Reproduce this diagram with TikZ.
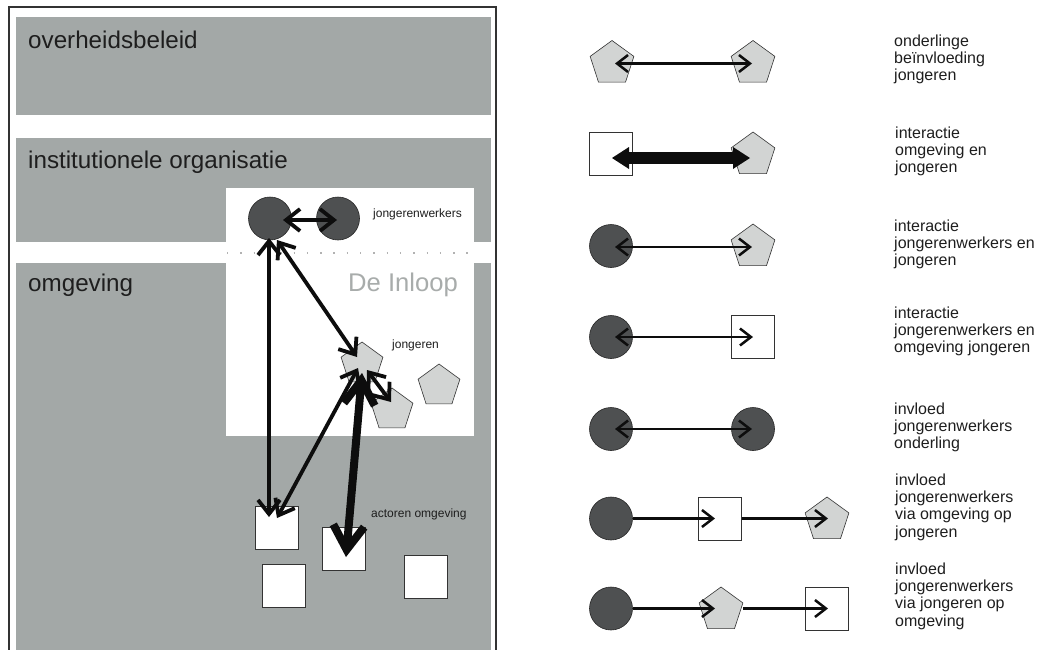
\documentclass[tikz,border=0pt]{standalone}
\usepackage{fontspec}
\setmainfont{Liberation Sans}
\usetikzlibrary{shapes.geometric,arrows.meta,calc}
\definecolor{band}{HTML}{A3A8A7}
\definecolor{dark}{HTML}{4E5051}
\definecolor{light}{HTML}{D2D4D3}
\definecolor{txt}{HTML}{1E1E1E}
\definecolor{inloop}{HTML}{A8ACAB}
\definecolor{framecol}{HTML}{333333}
\begin{document}
\begin{tikzpicture}[x=1pt,y=-1pt,
  worker/.style={circle,draw=black!85,line width=0.6pt,fill=dark,minimum size=43pt,inner sep=0pt},
  youth/.style={regular polygon,regular polygon sides=5,draw=black!80,line width=0.6pt,fill=light,minimum size=44pt,inner sep=0pt},
  actor/.style={rectangle,draw=black!80,line width=0.7pt,fill=white,minimum size=43pt,inner sep=0pt},
  bigtext/.style={anchor=base west,font=\fontsize{24.2}{28}\selectfont,text=txt,inner sep=0pt},
  smalltext/.style={anchor=base west,font=\fontsize{12}{14}\selectfont,text=txt,inner sep=0pt},
  legtext/.style={anchor=base west,align=left,font=\fontsize{16}{17.4}\selectfont,text=txt,inner sep=0pt},
  arr/.style={line width=3.8pt,black!95,{Straight Barb[length=14pt,width=22pt]}-{Straight Barb[length=14pt,width=22pt]}},
  thickarr/.style={line width=8pt,black!95,{Straight Barb[length=24pt,width=31pt]}-{Straight Barb[length=24pt,width=31pt]}},
  legarr/.style={line width=2.5pt,black!95,{Straight Barb[length=11pt,width=17pt]}-{Straight Barb[length=11pt,width=17pt]}},
  legone/.style={line width=2.5pt,black!95,-{Straight Barb[length=11pt,width=17pt]}},
  fatarr/.style={line width=12pt,black!95,{Triangle[length=17pt,width=22pt,line width=0pt]}-{Triangle[length=17pt,width=22pt,line width=0pt]}}
]
\useasboundingbox (0,0) rectangle (1038,649);
% left panel
\draw[framecol,line width=1.3pt] (9,7) rectangle (496,670);
\fill[band] (16,17) rectangle (491,115);
\fill[band] (16,138) rectangle (491,242);
\fill[band] (16,263) rectangle (491,668);
\fill[white] (226,188) rectangle (474,436);
\draw[gray!60,line width=1.4pt,dash pattern=on 1.4pt off 11.9pt] (227,253) -- (474,253);
\node[bigtext] (t1) at (28,48) {overheidsbeleid};
\node[bigtext] (t2) at (28,168) {institutionele organisatie};
\node[bigtext] (t3) at (28,291) {omgeving};
\node[bigtext,text=inloop,font=\fontsize{25.6}{30}\selectfont] (t4) at (348,291) {De Inloop};
\node[smalltext] (t5) at (373,217) {jongerenwerkers};
\node[smalltext] (t6) at (392,348) {jongeren};
\node[smalltext] (t7) at (371,517) {actoren omgeving};
\node[worker] (w1) at (270,218.5) {};
\node[worker] (w2) at (338,218.5) {};
\node[youth] (y1) at (362,364) {};
\node[youth] (y2) at (392,410) {};
\node[youth] (y3) at (439,386) {};
\node[actor] (a1) at (276.5,527.5) {};
\node[actor] (a2) at (343.5,548.5) {};
\node[actor] (a3) at (284,586) {};
\node[actor] (a4) at (426,576.5) {};
\draw[arr] ($(w1)+(13,1.5)$) -- ($(w2)+(-1,1.5)$);
\draw[arr] ($(w1)+(-1,19.5)$) -- ($(a1)+(-7.5,-10.5)$);
\draw[arr] ($(w1)+(7,21.5)$) -- ($(y1)+(-5,-7)$);
\draw[arr] ($(y1)+(-4,4)$) -- ($(a1)+(0.5,-9.5)$);
\draw[arr] ($(y1)+(5,6)$) -- ($(y2)+(-1,-8)$);
\draw[thickarr] ($(y1)+(0,9)$) -- ($(a2)+(2.5,8.5)$);
% legend
\node[youth,minimum size=46pt] (l1a) at (612,63.5) {};
\node[youth,minimum size=46pt] (l1b) at (753,63.5) {};
\draw[legarr] ($(l1a)+(3,0)$) -- ($(l1b)+(-1,0)$);
\node[actor] (l2a) at (611,154) {};
\node[youth,minimum size=46pt] (l2b) at (753,155) {};
\draw[fatarr] ($(l2a)+(1,4)$) -- ($(l2b)+(-3,3)$);
\node[worker] (l3a) at (611,246) {};
\node[youth,minimum size=46pt] (l3b) at (753,247) {};
\draw[legarr] ($(l3a)+(4,1)$) -- ($(l3b)+(-1,0)$);
\node[worker] (l4a) at (611,337) {};
\node[actor] (l4b) at (752.5,336.5) {};
\draw[legarr] ($(l4a)+(4,0)$) -- ($(l4b)+(0.5,0.5)$);
\node[worker] (l5a) at (611,429) {};
\node[worker] (l5b) at (753,429) {};
\draw[legarr] ($(l5a)+(4,0)$) -- ($(l5b)+(-1,0)$);
\node[worker] (l6a) at (611,518.5) {};
\node[actor] (l6b) at (720,518.5) {};
\node[youth,minimum size=46pt] (l6c) at (827,520) {};
\draw[legone] (l6a.east) -- ($(l6b)+(-5,0)$);
\draw[legone] (l6b.east) -- ($(l6c)+(1,-1.5)$);
\node[worker] (l7a) at (611,608.5) {};
\node[youth,minimum size=46pt] (l7b) at (721,610) {};
\node[actor] (l7c) at (826.5,608.5) {};
\draw[legone] (l7a.east) -- ($(l7b)+(-6,-1.5)$);
\draw[legone] ($(l7b)+(22,-1.5)$) -- ($(l7c)+(1.5,0)$);
\node[legtext] (g1) at (894,80.8) {onderlinge\\beïnvloeding\\jongeren};
\node[legtext] (g2) at (895,172.8) {interactie\\omgeving en\\jongeren};
\node[legtext] (g3) at (894,265.8) {interactie\\jongerenwerkers en\\jongeren};
\node[legtext] (g4) at (894,352.8) {interactie\\jongerenwerkers en\\omgeving jongeren};
\node[legtext] (g5) at (894,448.8) {invloed\\jongerenwerkers\\onderling};
\node[legtext] (g6) at (895,537.2) {invloed\\jongerenwerkers\\via omgeving op\\jongeren};
\node[legtext] (g7) at (895,626.2) {invloed\\jongerenwerkers\\via jongeren op\\omgeving};
\end{tikzpicture}
\end{document}
